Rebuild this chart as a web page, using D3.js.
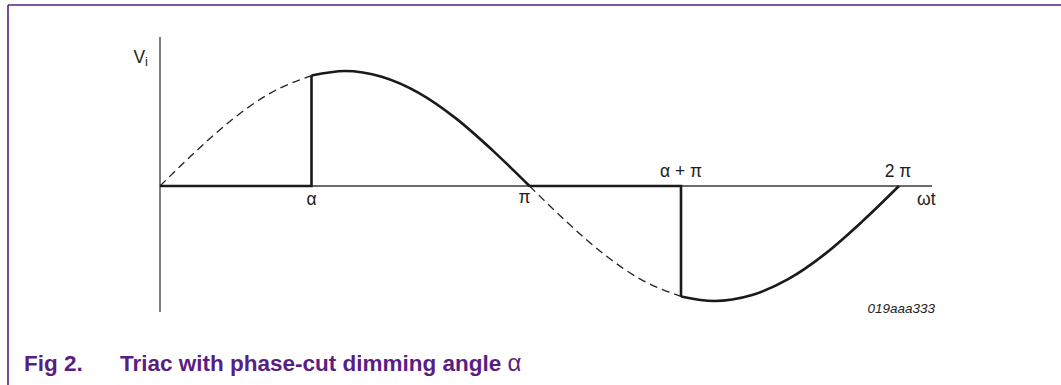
<!DOCTYPE html>
<html>
<head>
<meta charset="utf-8">
<script src="https://cdn.jsdelivr.net/npm/d3@7"></script>
<style>
  html, body { margin: 0; padding: 0; background: #fff; }
  svg { display: block; }
  text { font-family: "Liberation Sans", Arial, sans-serif; }
</style>
</head>
<body>
<svg id="chart" width="1061" height="385"></svg>
<script>
// ---- data (phase in units of pi, voltage normalised to peak) ----
const phase = [0, 0.1, 0.2, 0.3, 0.41, 0.5, 0.6, 0.7, 0.8, 0.9, 1.0,
               1.1, 1.2, 1.3, 1.41, 1.5, 1.6, 1.7, 1.8, 1.9, 2.0];
const voltage = [0, 0.31, 0.59, 0.81, 0.96, 1.0, 0.95, 0.81, 0.59, 0.31, 0,
                 -0.31, -0.59, -0.81, -0.96, -1.0, -0.95, -0.81, -0.59, -0.31, 0];
const alphaAngle = 0.41;               // dimming angle (x pi)
const tickValues = [0.41, 1.0, 1.41, 2.0];
const tickLabels = ["α", "π", "α + π", "2 π"];
const yLabel = "V", ySub = "i";
const xLabel = "ωt";
const figCode = "019aaa333";
const captionNum = "Fig 2.";
const captionText = "Triac with phase-cut dimming angle ";
const captionSym = "α";

const svg = d3.select("#chart");
const purple = "#5a1e82";

// frame lines
svg.append("line").attr("x1", 8).attr("x2", 1061).attr("y1", 5).attr("y2", 5)
  .attr("stroke", purple).attr("stroke-width", 1.6);
svg.append("line").attr("x1", 8).attr("x2", 8).attr("y1", 5).attr("y2", 385)
  .attr("stroke", purple).attr("stroke-width", 1.6);

const x = d3.scaleLinear().domain([0, 2]).range([160, 899]);
const y = d3.scaleLinear().domain([-1, 1]).range([301, 71]);

const pts = phase.map((p, i) => ({p, v: voltage[i]}));

// axes
svg.append("line").attr("x1", x(0)).attr("x2", x(0)).attr("y1", 37).attr("y2", 312)
  .attr("stroke", "#3a3a3a").attr("stroke-width", 1.3);
svg.append("line").attr("x1", x(0)).attr("x2", x(2) + 33).attr("y1", y(0)).attr("y2", y(0))
  .attr("stroke", "#3a3a3a").attr("stroke-width", 1.3);

const curveLine = d3.line().x(d => x(d.p)).y(d => y(d.v)).curve(d3.curveMonotoneX);
const straight = d3.line().x(d => x(d.p)).y(d => y(d.v));

const vAt = p => voltage[phase.indexOf(p)];

// dashed (non-conducting) parts of the sine
const dashSegs = [
  pts.filter(d => d.p <= alphaAngle + 1e-9),
  pts.filter(d => d.p >= 1 - 1e-9 && d.p <= 1 + alphaAngle + 1e-9)
];
dashSegs.forEach(seg => {
  svg.append("path").attr("d", curveLine(seg)).attr("fill", "none")
    .attr("stroke", "#222").attr("stroke-width", 1.3).attr("stroke-dasharray", "8,5");
});

// solid (conducting) parts
const thick = {fill: "none", stroke: "#1a1a1a", "stroke-width": 2.6};
function applyStyle(sel) { Object.entries(thick).forEach(([k, v]) => sel.attr(k, v)); return sel; }

applyStyle(svg.append("path").attr("d", straight([
  {p: 0, v: 0}, {p: alphaAngle, v: 0}, {p: alphaAngle, v: vAt(alphaAngle)}
])).attr("stroke-linejoin", "miter"));
applyStyle(svg.append("path").attr("d", straight([
  {p: 1, v: 0}, {p: 1 + alphaAngle, v: 0}, {p: 1 + alphaAngle, v: vAt(1 + alphaAngle)}
])).attr("stroke-linejoin", "miter"));

applyStyle(svg.append("path").attr("d",
  curveLine(pts.filter(d => d.p >= alphaAngle - 1e-9 && d.p <= 1 + 1e-9))));
applyStyle(svg.append("path").attr("d",
  curveLine(pts.filter(d => d.p >= 1 + alphaAngle - 1e-9))));

// tick labels
const fs = 17.5;
const labelPos = [
  {dx: 0, dy: 19},
  {dx: -5, dy: 17},
  {dx: 0, dy: -9},
  {dx: -1, dy: -9}
];
tickValues.forEach((t, i) => {
  svg.append("text").attr("x", x(t) + labelPos[i].dx).attr("y", y(0) + labelPos[i].dy)
    .attr("text-anchor", "middle").attr("font-size", fs).attr("fill", "#222")
    .text(tickLabels[i]);
});

// axis titles
const yl = svg.append("text").attr("x", 148).attr("y", 63).attr("text-anchor", "end")
  .attr("font-size", fs).attr("fill", "#222");
yl.append("tspan").text(yLabel);
yl.append("tspan").attr("font-size", 13).attr("dy", 3).text(ySub);

svg.append("text").attr("x", 917).attr("y", 205).attr("font-size", fs).attr("fill", "#222")
  .text(xLabel);

svg.append("text").attr("x", 935).attr("y", 313).attr("text-anchor", "end")
  .attr("font-size", 13.5).attr("font-style", "italic").attr("fill", "#222")
  .text(figCode);

// caption
svg.append("text").attr("x", 24).attr("y", 371).attr("font-size", 22.5).attr("font-weight", "bold")
  .attr("fill", purple).text(captionNum);
const cap = svg.append("text").attr("x", 120).attr("y", 371).attr("font-size", 22.5)
  .attr("font-weight", "bold").attr("fill", purple);
cap.append("tspan").text(captionText);
cap.append("tspan").attr("font-weight", "normal").attr("font-size", 24).text(captionSym);
</script>
</body>
</html>
